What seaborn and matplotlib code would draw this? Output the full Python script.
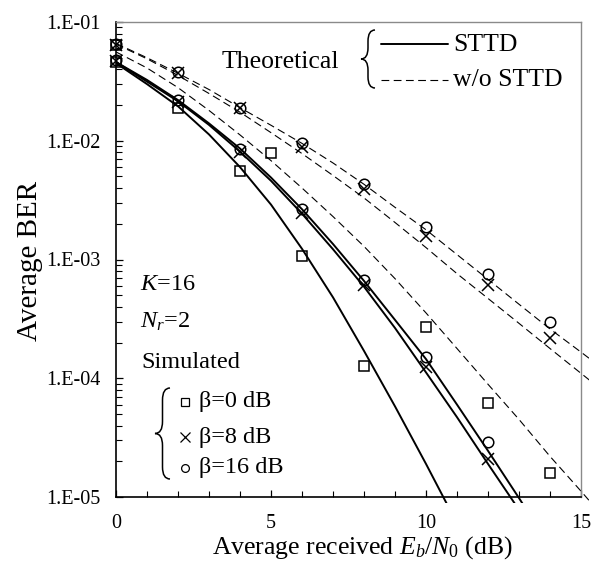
import numpy as np
import pandas as pd
import matplotlib.pyplot as plt
import seaborn as sns
from matplotlib.path import Path
from matplotlib.patches import PathPatch, Rectangle
from matplotlib.lines import Line2D

# ─── DATA ─────────────────────────────────────────────
# theoretical curves, STTD (solid)
snr_sttd_b0 = [0, 1, 2, 3, 4, 5, 6, 7, 8, 9, 10, 11]
ber_sttd_b0 = [4.5e-2, 3.0e-2, 1.95e-2, 1.13e-2, 6.0e-3, 2.9e-3, 1.23e-3,
               4.8e-4, 1.7e-4, 5.8e-5, 1.9e-5, 6.0e-6]
snr_sttd_b8 = [0, 1, 2, 3, 4, 5, 6, 7, 8, 9, 10, 11, 12, 13]
ber_sttd_b8 = [4.6e-2, 3.15e-2, 2.15e-2, 1.36e-2, 8.1e-3, 4.6e-3, 2.43e-3,
               1.22e-3, 5.9e-4, 2.65e-4, 1.12e-4, 4.7e-5, 1.9e-5, 7.8e-6]
snr_sttd_b16 = [0, 1, 2, 3, 4, 5, 6, 7, 8, 9, 10, 11, 12, 13, 14]
ber_sttd_b16 = [4.6e-2, 3.25e-2, 2.2e-2, 1.4e-2, 8.6e-3, 4.9e-3, 2.65e-3,
                1.35e-3, 6.6e-4, 3.1e-4, 1.45e-4, 6.0e-5, 2.45e-5, 9.8e-6, 3.8e-6]

# theoretical curves, w/o STTD (dashed)
snr_wo = [0, 1, 2, 3, 4, 5, 6, 7, 8, 9, 10, 11, 12, 13, 14, 15, 16]
ber_wo_b0 = [5.6e-2, 4.1e-2, 2.8e-2, 1.8e-2, 1.12e-2, 6.8e-3, 4.0e-3, 2.3e-3,
             1.29e-3, 6.9e-4, 3.55e-4, 1.78e-4, 8.9e-5, 4.5e-5, 2.2e-5, 1.12e-5, 5.6e-6]
ber_wo_b8 = [6.5e-2, 4.9e-2, 3.55e-2, 2.5e-2, 1.74e-2, 1.17e-2, 7.8e-3, 5.1e-3,
             3.3e-3, 2.05e-3, 1.26e-3, 7.6e-4, 4.7e-4, 2.9e-4, 1.78e-4, 1.1e-4, 6.8e-5]
ber_wo_b16 = [6.6e-2, 5.0e-2, 3.7e-2, 2.7e-2, 1.9e-2, 1.35e-2, 9.5e-3, 6.5e-3,
              4.3e-3, 2.75e-3, 1.78e-3, 1.1e-3, 6.8e-4, 4.2e-4, 2.6e-4, 1.66e-4, 1.05e-4]

# simulated points
sim_sttd_b0_x = [0, 2, 4, 6, 8]
sim_sttd_b0_y = [4.6e-2, 1.9e-2, 5.6e-3, 1.06e-3, 1.28e-4]
sim_sttd_b8_x = [0, 2, 4, 6, 8, 10, 12]
sim_sttd_b8_y = [4.7e-2, 2.1e-2, 8.1e-3, 2.45e-3, 6.1e-4, 1.24e-4, 2.1e-5]
sim_sttd_b16_x = [0, 2, 4, 6, 8, 10, 12]
sim_sttd_b16_y = [4.8e-2, 2.2e-2, 8.5e-3, 2.65e-3, 6.7e-4, 1.5e-4, 2.9e-5]
sim_wo_b0_x = [0, 5, 10, 12, 14]
sim_wo_b0_y = [6.4e-2, 7.9e-3, 2.7e-4, 6.2e-5, 1.6e-5]
sim_wo_b8_x = [0, 2, 4, 6, 8, 10, 12, 14]
sim_wo_b8_y = [6.4e-2, 3.7e-2, 1.9e-2, 8.8e-3, 3.9e-3, 1.58e-3, 6.1e-4, 2.2e-4]
sim_wo_b16_x = [0, 2, 4, 6, 8, 10, 12, 14]
sim_wo_b16_y = [6.5e-2, 3.8e-2, 1.9e-2, 9.6e-3, 4.3e-3, 1.89e-3, 7.5e-4, 3.0e-4]

x_ticks = [0, 5, 10, 15]
y_ticks = [1e-5, 1e-4, 1e-3, 1e-2, 1e-1]
y_tick_labels = ['1.E-05', '1.E-04', '1.E-03', '1.E-02', '1.E-01']
beta_labels = ['β=0 dB', 'β=8 dB', 'β=16 dB']

# ─── STYLE ────────────────────────────────────────────
sns.set_style('ticks')
plt.rcParams.update({
    'font.family': ['Liberation Serif', 'DejaVu Serif'],
    'mathtext.fontset': 'custom',
    'mathtext.rm': 'Liberation Serif',
    'mathtext.it': 'Liberation Serif:italic',
    'text.color': 'black',
    'axes.labelcolor': 'black',
    'xtick.color': 'black',
    'ytick.color': 'black',
})

W, H = 602, 561
fig = plt.figure(figsize=(W / 100, H / 100), dpi=100)
ax = fig.add_axes([116 / W, 1 - 497 / H, 465 / W, 475 / H])


def fx(px):
    return px / W


def fy(py):
    return 1 - py / H


# ─── THEORY CURVES ────────────────────────────────────
clip = Rectangle((0, -0.013), 1.017, 1.013, transform=ax.transAxes)

theory = [
    (snr_sttd_b0, ber_sttd_b0, '-', 1.4),
    (snr_sttd_b8, ber_sttd_b8, '-', 1.4),
    (snr_sttd_b16, ber_sttd_b16, '-', 1.4),
    (snr_wo, ber_wo_b0, (0, (7, 4)), 0.8),
    (snr_wo, ber_wo_b8, (0, (7, 4)), 0.8),
    (snr_wo, ber_wo_b16, (0, (7, 4)), 0.8),
]
for xs, ys, ls, lw in theory:
    df = pd.DataFrame({'snr': xs, 'ber': ys})
    sns.lineplot(data=df, x='snr', y='ber', ax=ax, color='k', lw=lw,
                 linestyle=ls)
    ax.lines[-1].set_clip_path(clip)

# ─── SIMULATED POINTS ─────────────────────────────────
sims = [
    (sim_sttd_b0_x, sim_sttd_b0_y, 's', 7.2),
    (sim_wo_b0_x, sim_wo_b0_y, 's', 7.2),
    (sim_sttd_b8_x, sim_sttd_b8_y, 'x', 8.5),
    (sim_wo_b8_x, sim_wo_b8_y, 'x', 8.5),
    (sim_sttd_b16_x, sim_sttd_b16_y, 'o', 7.6),
    (sim_wo_b16_x, sim_wo_b16_y, 'o', 7.6),
]
for xs, ys, m, ms in sims:
    sns.lineplot(x=xs, y=ys, ax=ax, color='k', marker=m, linestyle='none',
                 ms=ms, mfc='none', mec='k', mew=1.1, clip_on=False)

# ─── AXES ─────────────────────────────────────────────
ax.set_yscale('log')
ax.set_xlim(0, 15)
ax.set_ylim(1e-5, 1e-1)
ax.set_xticks(x_ticks)
ax.set_xticks(np.arange(1, 15), minor=True)
ax.set_yticks(y_ticks, labels=y_tick_labels)
ax.tick_params(axis='both', which='both', direction='in', labelsize=14.5)
ax.tick_params(axis='both', which='major', length=5, width=0.9)
ax.tick_params(axis='both', which='minor', length=4, width=0.8)
ax.tick_params(axis='x', which='major', pad=12)
ax.tick_params(axis='y', which='major', pad=11)
for s in ['left', 'bottom']:
    ax.spines[s].set_linewidth(1.2)
    ax.spines[s].set_color('k')
for s in ['top', 'right']:
    ax.spines[s].set_visible(True)
    ax.spines[s].set_linewidth(1.0)
    ax.spines[s].set_color('#8a8a8a')

ax.set_xlabel('Average received $E_b/N_{\\rm 0}$ (dB)', fontsize=18.5)
ax.set_ylabel('Average BER', fontsize=21)
ax.xaxis.set_label_coords(0.53, -0.079)
ax.yaxis.set_label_coords(-0.158, 0.497)

# ─── THEORETICAL LEGEND ───────────────────────────────


def draw_brace(x, y_top, y_bot, w, lw=1.1):
    ym = (y_top + y_bot) / 2
    xm = x + w / 2
    c = w * 0.8
    pts = [(x + w, y_top), (xm, y_top), (xm, y_top + c),
           (xm, ym - c), (xm, ym), (x, ym),
           (xm, ym), (xm, ym + c),
           (xm, y_bot - c), (xm, y_bot), (x + w, y_bot)]
    codes = [Path.MOVETO, Path.CURVE3, Path.CURVE3, Path.LINETO,
             Path.CURVE3, Path.CURVE3, Path.CURVE3, Path.CURVE3,
             Path.LINETO, Path.CURVE3, Path.CURVE3]
    verts = [(fx(px), fy(py)) for px, py in pts]
    fig.add_artist(PathPatch(Path(verts, codes), fc='none', ec='k', lw=lw,
                             transform=fig.transFigure))


fig.text(fx(222), fy(62), 'Theoretical', fontsize=18.5, va='center', ha='left')
draw_brace(361, 30, 88, 14)
fig.add_artist(Line2D([fx(381), fx(448)], [fy(44), fy(44)], color='k', lw=1.4))
fig.add_artist(Line2D([fx(381), fx(448)], [fy(80), fy(80)], color='k', lw=0.8,
                      linestyle=(0, (7, 4))))
fig.text(fx(453), fy(45), 'STTD', fontsize=18.5, va='center', ha='left')
fig.text(fx(453), fy(80), 'w/o STTD', fontsize=18.5, va='center', ha='left')

# ─── SIMULATED LEGEND ─────────────────────────────────
fig.text(fx(140), fy(285), '$K$=16', fontsize=17.5, va='center', ha='left')
fig.text(fx(140), fy(322), '$N_r$=2', fontsize=17.5, va='center', ha='left')
fig.text(fx(141), fy(363), 'Simulated', fontsize=17.5, va='center', ha='left')
draw_brace(155, 388, 479, 15)
for m, ms, yy, lab in zip(['s', 'x', 'o'], [5.2, 6.5, 5.6], [402, 437, 468], beta_labels):
    fig.add_artist(Line2D([fx(185)], [fy(yy)], marker=m, ms=ms, mfc='none',
                          mec='k', mew=0.9, linestyle='none'))
    fig.text(fx(199), fy(yy), lab, fontsize=17.5, va='center', ha='left')

fig.savefig('out.png', dpi=100)
